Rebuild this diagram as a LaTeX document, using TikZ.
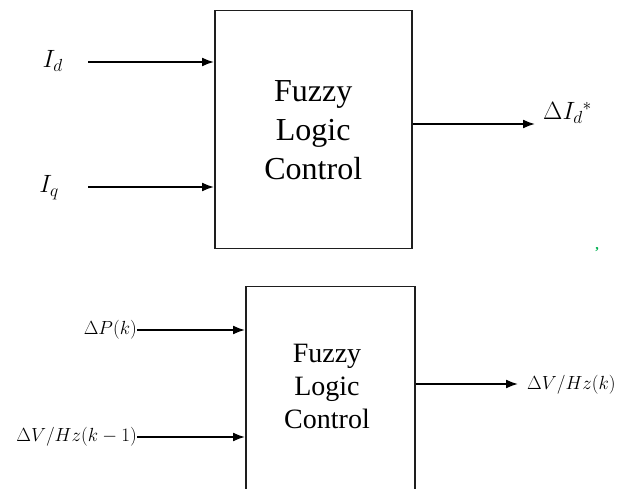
\RequirePackage{fix-cm}
\documentclass[tikz,border=0pt]{standalone}
\usepackage{fontspec}
\setmainfont{Liberation Serif}
\usetikzlibrary{arrows.meta}
\definecolor{commagreen}{RGB}{0,176,80}
\definecolor{linegray}{RGB}{30,30,30}
\begin{document}
\begin{tikzpicture}[x=1pt,y=-1pt,
  boxstyle/.style={draw=linegray, line width=1.5pt, inner sep=0pt},
  arr/.style={draw=black, line width=1.7pt, -{Latex[length=12pt,width=9pt]}},
  bigtext/.style={font=\fontsize{32}{39}\selectfont, align=center},
  smalltext/.style={font=\fontsize{28}{33}\selectfont, align=center},
  biglabel/.style={font=\fontsize{25}{30}\selectfont, inner sep=0pt},
  smalllabel/.style={font=\fontsize{19}{23}\selectfont, inner sep=0pt}]
\useasboundingbox (0,0) rectangle (619,489);
% top block
\node[boxstyle, anchor=north west, minimum width=197pt, minimum height=238pt,
      bigtext] (flc1) at (214,10) {Fuzzy\\Logic\\Control};
\node[biglabel, anchor=east] (Id) at (63,61) {$I_d$};
\node[biglabel, anchor=east] (Iq) at (59,188) {$I_q$};
\coordinate (sId) at (88,62);
\coordinate (sIq) at (88,187);
\draw[arr] (sId) -- (sId -| flc1.west);
\draw[arr] (sIq) -- (sIq -| flc1.west);
\coordinate (o1) at (flc1.east |- 0,124);
\coordinate (e1) at (535,124);
\draw[arr] (o1) -- (e1);
\node[biglabel, anchor=base west] (dId) at (543,120) {$\Delta I_d{}^{*}$};
% bottom block
\node[boxstyle, anchor=north west, minimum width=169pt, minimum height=215pt] (flc2) at (245,286) {};
\node[smalltext] (flc2t) at (327,386) {Fuzzy\\Logic\\Control};
\node[smalllabel, anchor=east] (dP) at (137,330) {$\Delta P(k)$};
\node[smalllabel, anchor=east] (dV1) at (137,437) {$\Delta V/Hz(k-1)$};
\draw[arr] (dP.east) -- (dP.east -| flc2.west);
\draw[arr] (dV1.east) -- (dV1.east -| flc2.west);
\coordinate (o2) at (flc2.east |- 0,384);
\coordinate (e2) at (518,384);
\draw[arr] (o2) -- (e2);
\node[smalllabel, anchor=west] (dVk) at (527,385) {$\Delta V/Hz(k)$};
% stray comma
\node[text=commagreen, font=\fontsize{14}{16}\selectfont\bfseries, inner sep=0pt] (gc) at (597,250) {,};
\end{tikzpicture}
\end{document}
